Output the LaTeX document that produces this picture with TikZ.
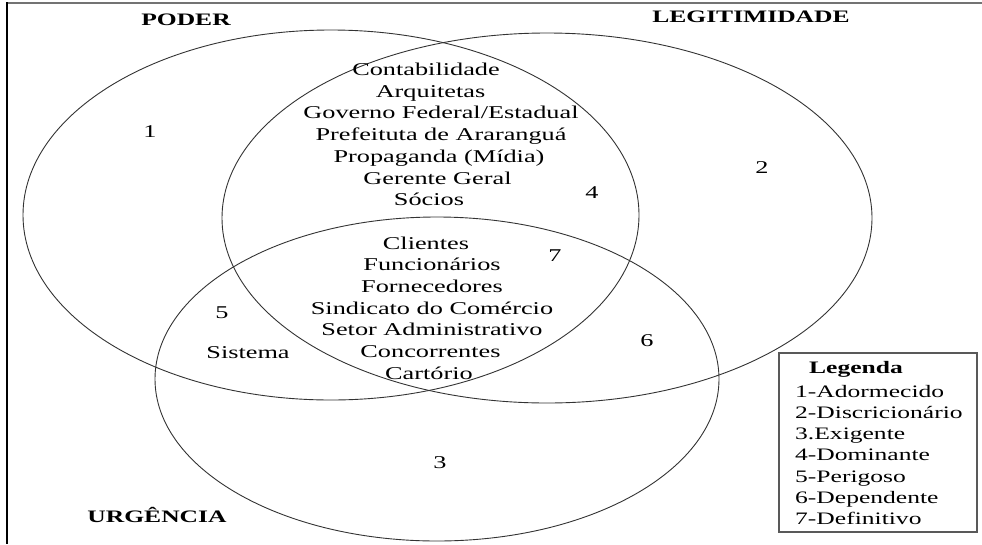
\documentclass[tikz,border=0pt]{standalone}
\usepackage{fontspec}
\setmainfont[FakeStretch=1.46]{Liberation Serif}
% shift one centred line to the left by #1
\newcommand{\leftby}[2]{#2\hspace*{#1}\hspace*{#1}}
\begin{document}
\begin{tikzpicture}[x=1pt,y=-1pt,
  setring/.style={draw=black!80, line width=0.9pt},
  frameline/.style={line width=2pt},
  biglabel/.style={font=\fontsize{17.5}{21}\selectfont\bfseries, inner sep=0pt},
  areanum/.style={font=\fontsize{18}{21.7}\selectfont, inner sep=0pt},
  members/.style={font=\fontsize{18}{21.7}\selectfont, align=center, inner sep=0pt},
  keytext/.style={font=\fontsize{17.5}{21.3}\selectfont, align=left, inner sep=0pt}]
\useasboundingbox (0,0) rectangle (982,544);
% outer frame (top and left edges)
\draw[frameline, black!55] (6,2.7) -- (982,2.7);
\draw[frameline, black] (6.5,2) -- (6.5,544);

% the three sets
\draw[setring] (331,215) ellipse [x radius=308pt, y radius=185pt];
\draw[setring] (547,218) ellipse [x radius=325pt, y radius=185pt];
\draw[setring] (437,379) ellipse [x radius=282pt, y radius=162pt];

% set names
\node[biglabel] (poder) at (186,20) {PODER};
\node[biglabel] (legit) at (751,17) {LEGITIMIDADE};
\node[biglabel] (urg) at (157,515) {URGÊNCIA};

% region numbers
\node[areanum] (n1) at (150,132) {1};
\node[areanum] (n2) at (762,168) {2};
\node[areanum] (n3) at (440,463) {3};
\node[areanum] (n4) at (592,193) {4};
\node[areanum] (n5) at (222,313) {5};
\node[areanum] (n6) at (647,341) {6};
\node[areanum] (n7) at (555,256) {7};

% stakeholders in each region
\node[members] (dominant) at (441,134.5) {\leftby{15pt}{Contabilidade}\\\leftby{21pt}{Arquitetas}\\Governo Federal/Estadual\\Prefeituta de Araranguá\\\leftby{4pt}{Propaganda (Mídia)}\\\leftby{7pt}{Gerente Geral}\\\leftby{12pt}{Sócios}};
\node[members] (definitive) at (432,308) {\leftby{6pt}{Clientes}\\Funcionários\\Fornecedores\\Sindicato do Comércio\\Setor Administrativo\\\leftby{3pt}{Concorrentes}\\\leftby{3pt}{Cartório}};
\node[members] (dangerous) at (248,353) {Sistema};

% legend
\node[draw=black!65, line width=1.2pt, minimum width=198pt, minimum height=179pt, inner sep=0pt] (keybox) at (878,442.5) {};
\node[biglabel] (keytitle) at (856,369) {Legenda};
\node[keytext, anchor=west] (keyitems) at (795,455) {1-Adormecido\\2-Discricionário\\3.Exigente\\4-Dominante\\5-Perigoso\\6-Dependente\\7-Definitivo};
\end{tikzpicture}
\end{document}
